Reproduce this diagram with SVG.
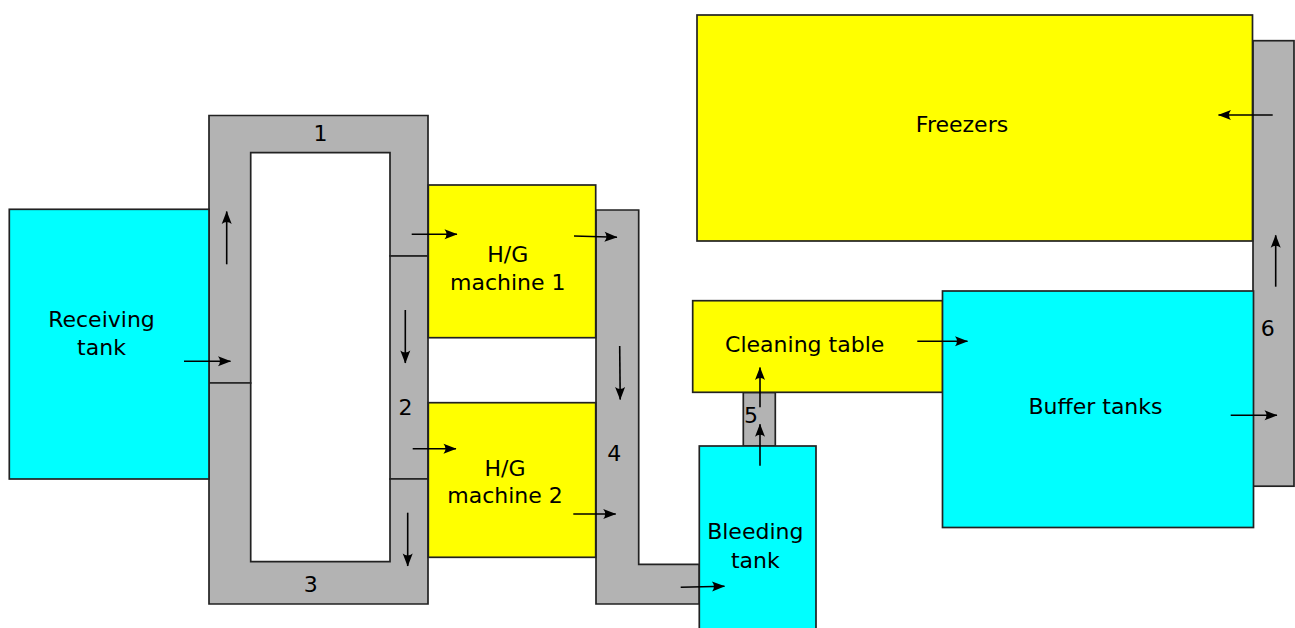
<svg xmlns="http://www.w3.org/2000/svg" width="1295" height="628" viewBox="0 0 1295 628">
<style>
.conv{fill:#b3b3b3;stroke:#222;stroke-width:1.7;stroke-linejoin:miter}
.cyan{fill:#00ffff;stroke:#222;stroke-width:1.7}
.yel{fill:#ffff00;stroke:#222;stroke-width:1.7}
text{font-family:"DejaVu Sans","Liberation Sans",sans-serif;font-size:22px;fill:#000;text-anchor:middle}
.arr{fill:none;stroke:#000;stroke-width:1.6;marker-end:url(#ah)}
</style>
<defs>
<marker id="ah" markerUnits="userSpaceOnUse" viewBox="-13 -6 15 12" refX="0.5" refY="0" markerWidth="15" markerHeight="12" orient="auto">
<path d="M1,0 L-12,-5 Q-8,0 -12,5 Z" fill="#000"/>
</marker>
</defs>
<rect width="1295" height="628" fill="#fff"/>
<g id="conveyor1">
<polygon class="conv" points="209,383 209,115.5 428,115.5 428,256 390,256 390,152.7 250.7,152.7 250.7,383"/>
<text x="320.5" y="141">1</text>
</g>
<g id="conveyor2">
<rect class="conv" x="390" y="256" width="38" height="223"/>
<text x="405.5" y="415">2</text>
</g>
<g id="conveyor3">
<polygon class="conv" points="209,383 250.7,383 250.7,561.7 390,561.7 390,479 428,479 428,604 209,604"/>
<text x="310.7" y="591.5">3</text>
</g>
<g id="conveyor4">
<polygon class="conv" points="596,210 638.7,210 638.7,564.3 699.3,564.3 699.3,604 596,604"/>
<text x="614.3" y="460.5">4</text>
</g>
<g id="conveyor5">
<rect class="conv" x="743.3" y="392.5" width="32" height="53.5"/>
<text x="751" y="423.3">5</text>
</g>
<g id="conveyor6">
<rect class="conv" x="1253" y="40.7" width="41" height="445.5"/>
<text x="1267.7" y="335.7">6</text>
</g>
<g id="receiving-tank">
<rect class="cyan" x="9.3" y="209.3" width="199.7" height="269.7"/>
<text x="101.5" y="326.7">Receiving</text>
<text x="101.5" y="355">tank</text>
</g>
<g id="hg-machine-1">
<rect class="yel" x="428.3" y="185" width="167.4" height="152.7"/>
<text x="507.8" y="262.3">H/G</text>
<text x="507.8" y="290">machine 1</text>
</g>
<g id="hg-machine-2">
<rect class="yel" x="428.3" y="402.7" width="167.4" height="154.6"/>
<text x="505" y="475.7">H/G</text>
<text x="505" y="503.3">machine 2</text>
</g>
<g id="bleeding-tank">
<rect class="cyan" x="699.3" y="446" width="116.7" height="190"/>
<text x="755.3" y="539.3">Bleeding</text>
<text x="755.3" y="567.7">tank</text>
</g>
<g id="cleaning-table">
<rect class="yel" x="692.7" y="300.7" width="250" height="91.6"/>
<text x="804.7" y="351.7">Cleaning table</text>
</g>
<g id="buffer-tanks">
<rect class="cyan" x="942.5" y="291" width="311" height="236.5"/>
<text x="1095.5" y="414.3">Buffer tanks</text>
</g>
<g id="freezers">
<rect class="yel" x="697" y="15" width="555.5" height="226"/>
<text x="962" y="131.7">Freezers</text>
</g>
<g id="connectors">
<line class="arr" x1="184" y1="361.3" x2="230.5" y2="361.3"/>
<line class="arr" x1="226.7" y1="264.3" x2="226.7" y2="211.5"/>
<line class="arr" x1="411.7" y1="234.2" x2="457" y2="234.2"/>
<line class="arr" x1="405.3" y1="310" x2="405.3" y2="363"/>
<line class="arr" x1="412.7" y1="448.7" x2="456" y2="448.7"/>
<line class="arr" x1="407.7" y1="512.7" x2="407.7" y2="566"/>
<line class="arr" x1="574" y1="236" x2="617" y2="237.2"/>
<line class="arr" x1="619.7" y1="346" x2="620.2" y2="399.5"/>
<line class="arr" x1="573.3" y1="514" x2="615.7" y2="514"/>
<line class="arr" x1="680.7" y1="587.3" x2="724.5" y2="586.3"/>
<line class="arr" x1="760" y1="465.7" x2="760" y2="424.3"/>
<line class="arr" x1="760" y1="407.3" x2="760" y2="367.5"/>
<line class="arr" x1="917.3" y1="341.3" x2="967.5" y2="341.3"/>
<line class="arr" x1="1230.7" y1="415.3" x2="1277" y2="415.3"/>
<line class="arr" x1="1275.7" y1="286.7" x2="1275.7" y2="235.3"/>
<line class="arr" x1="1272.7" y1="115" x2="1218.5" y2="115"/>
</g>
</svg>
